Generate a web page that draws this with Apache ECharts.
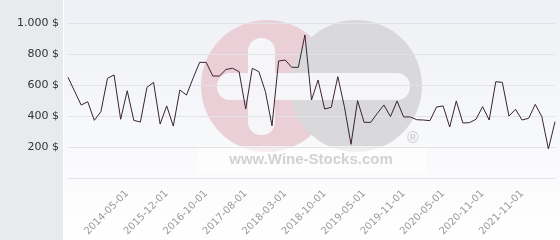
<!DOCTYPE html>
<html><head><meta charset="utf-8">
<script src="https://cdn.jsdelivr.net/npm/echarts@6/dist/echarts.min.js"></script>
<style>html,body{margin:0;padding:0;background:#fff}#c{width:560px;height:240px}</style>
</head><body><div id="c"></div>
<script>
// Price series (one value per observation, in $)
const values = [650, 560, 471, 492, 372, 428, 643, 665, 379, 563,
  372, 361, 585, 617, 348, 465, 335, 568, 535, 643,
  746, 746, 658, 658, 700, 708, 686, 445, 708, 686,
  557, 337, 755, 761, 714, 714, 923, 503, 632, 445,
  456, 654, 460, 217, 499, 359, 359, 417, 471, 396,
  497, 394, 394, 376, 374, 370, 458, 465, 329, 497,
  355, 357, 379, 460, 374, 621, 617, 400, 443, 374,
  385, 475, 396, 187, 363];
// Visible x tick labels (every 6th observation, starting at observation 9)
const tickLabels = ['2014-05-01', '2015-12-01', '2016-10-01', '2017-08-01', '2018-03-01',
  '2018-10-01', '2019-05-01', '2019-11-01', '2020-05-01', '2020-11-01', '2021-11-01'];
const firstLabelIndex = 9;
const labelStep = 6;
// Y axis ticks
const yMin = 0, yMax = 1000, yStep = 200;

const categories = values.map((_, i) => String(i));
function xLabel(i) {
  const k = (i - firstLabelIndex) / labelStep;
  return (Number.isInteger(k) && k >= 0 && k < tickLabels.length) ? tickLabels[k] : '';
}
function fmtY(v) {
  if (v === 0) return '';
  return String(v).replace(/\B(?=(\d{3})+(?!\d))/g, '.') + ' $';
}

const chart = echarts.init(document.getElementById('c'), null, {renderer: 'canvas'});
chart.setOption({
  animation: false,
  backgroundColor: '#ffffff',
  graphic: [
    {type: 'rect', z: -100, shape: {x: 0, y: 0, width: 63, height: 240}, style: {fill: '#e7ebee'}},
    {type: 'rect', z: -100, shape: {x: 64, y: 0, width: 496, height: 240},
      style: {fill: new echarts.graphic.LinearGradient(0, 0, 0, 1, [
        {offset: 0, color: '#eef0f5'}, {offset: 1, color: '#ffffff'}])}},
    {type: 'circle', z: -90, shape: {cx: 267, cy: 86, r: 66}, style: {fill: '#eacfd6'}},
    {type: 'circle', z: -89, shape: {cx: 356, cy: 86, r: 66}, style: {fill: '#d9d9db'}},
    {type: 'rect', z: -88, shape: {x: 248, y: 38, width: 27, height: 97, r: 13}, style: {fill: '#f6f6f9'}},
    {type: 'rect', z: -88, shape: {x: 217, y: 73, width: 193, height: 27, r: 13}, style: {fill: '#f6f6f9'}},
    {type: 'rect', z: -87, shape: {x: 197, y: 146, width: 230, height: 27}, style: {fill: 'rgba(255,255,255,0.6)'}},
    {type: 'text', z: -86, x: 311, y: 160, style: {text: 'www.Wine-Stocks.com', fill: '#d2d2d4',
      font: 'bold 15px "Liberation Sans", Arial, sans-serif', align: 'center', verticalAlign: 'middle'}},
    {type: 'text', z: -86, x: 413, y: 139, style: {text: '®', fill: '#d2d2d4',
      font: 'bold 16px "Liberation Sans", Arial, sans-serif', align: 'center', verticalAlign: 'middle'}}
  ],
  grid: {left: 68, right: 5, top: 23, bottom: 62, containLabel: false},
  xAxis: {
    type: 'category', data: categories, boundaryGap: false,
    axisLine: {show: false}, axisTick: {show: false}, splitLine: {show: false},
    axisLabel: {interval: 0, rotate: 45, margin: 14, color: '#9a9a9a', fontSize: 10,
      fontFamily: 'DejaVu Sans', formatter: (v, i) => xLabel(i)}
  },
  yAxis: {
    type: 'value', min: yMin, max: yMax, interval: yStep,
    axisLine: {show: false}, axisTick: {show: false},
    splitLine: {lineStyle: {color: '#e2e3e6', width: 1}},
    axisLabel: {margin: 9, color: '#333333', fontSize: 11, fontFamily: 'DejaVu Sans', formatter: fmtY}
  },
  series: [{
    type: 'line', data: values, symbol: 'none', smooth: false,
    lineStyle: {color: '#3a2330', width: 1}, z: 5
  }]
});
</script></body></html>
